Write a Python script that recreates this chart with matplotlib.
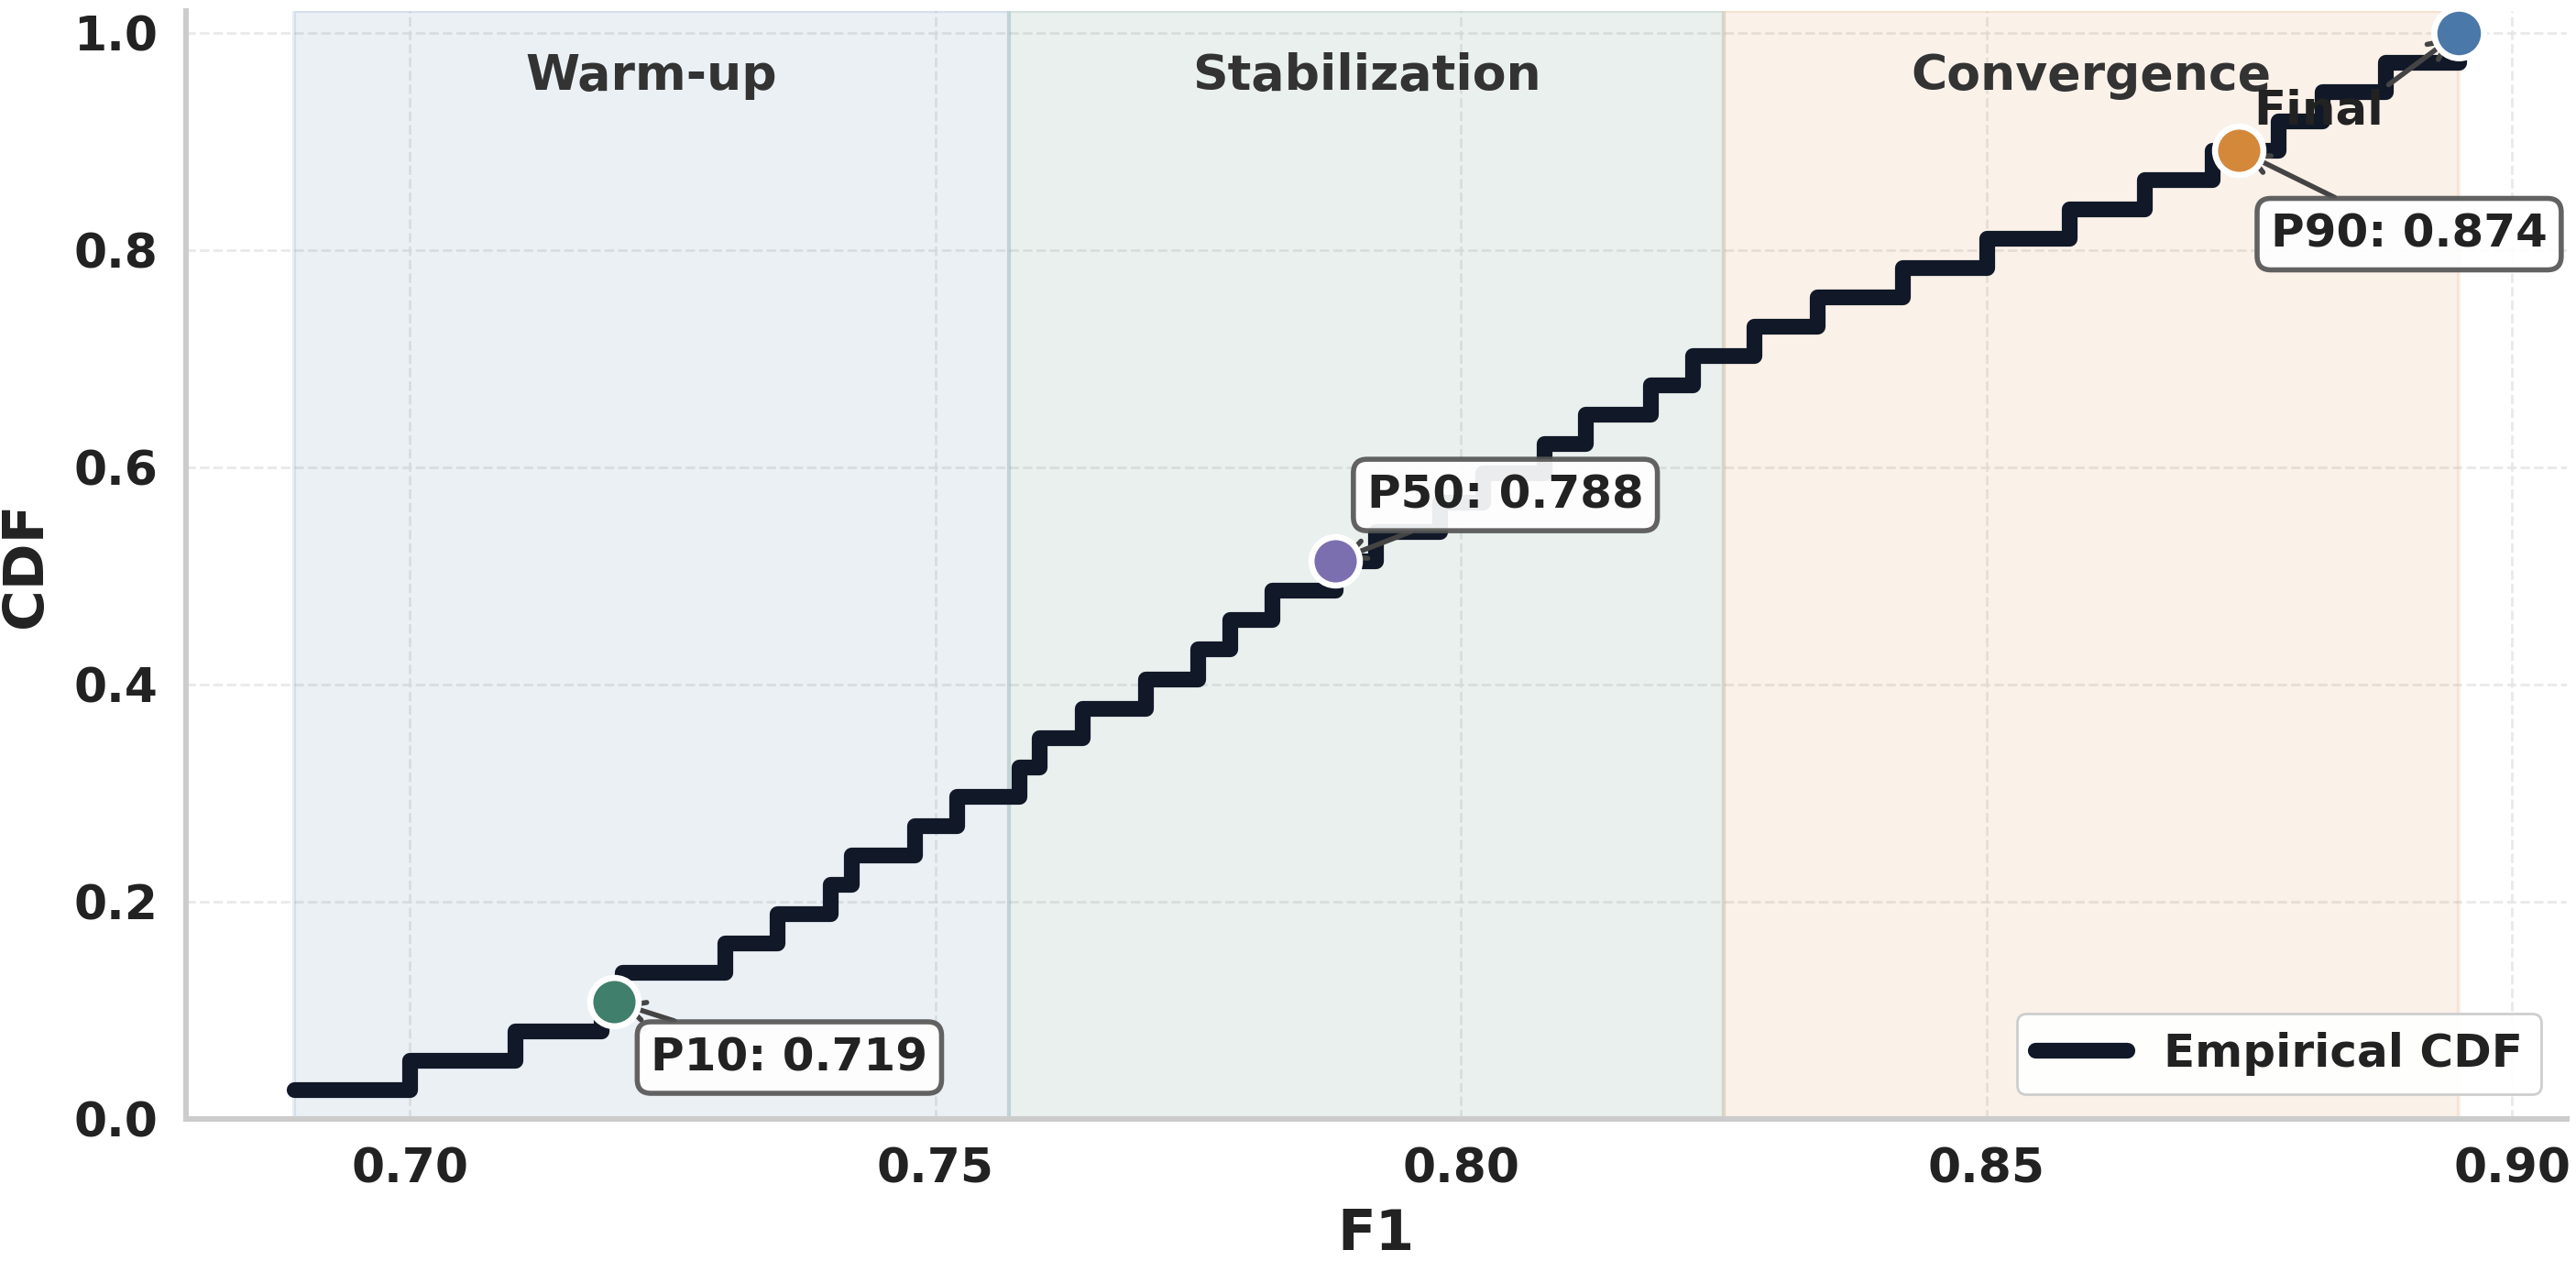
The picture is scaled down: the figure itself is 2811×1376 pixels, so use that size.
import numpy as np
import matplotlib
matplotlib.use("Agg")
import matplotlib.pyplot as plt

# sorted F1 scores
f1_scores = [0.689, 0.700, 0.710, 0.7182, 0.7202, 0.730, 0.7349, 0.740, 0.742, 0.748,
             0.752, 0.758, 0.7599, 0.764, 0.770, 0.775, 0.778, 0.782, 0.788, 0.7919,
             0.798, 0.8021, 0.8079, 0.8118, 0.818, 0.822, 0.8279, 0.8339, 0.842, 0.850,
             0.8579, 0.865, 0.8715, 0.8777, 0.8819, 0.8879, 0.8949]

phase_names = ["Warm-up", "Stabilization", "Convergence"]
phase_edges = [0.689, 0.757, 0.825, 0.8949]
phase_colors = ["#4A78A8", "#3F7F6B", "#D4883A"]

pct_levels = [10, 50, 90]
pct_colors = ["#3F7F6B", "#7B6FB0", "#D4883A"]
pct_offsets = [(69, -22), (67, 26), (67, -33)]  # points
final_color = "#4A78A8"

x = np.sort(np.array(f1_scores))
n = len(x)
y = np.arange(1, n + 1) / n

plt.rcParams['font.family'] = 'DejaVu Sans'
fig = plt.figure(figsize=(14.055, 6.88), dpi=200)
ax = fig.add_subplot(111)
fig.subplots_adjust(left=0.0722, right=0.9964, bottom=0.1126, top=0.9913)

# phase bands
for i, name in enumerate(phase_names):
    lo, hi = phase_edges[i], phase_edges[i + 1]
    c = matplotlib.colors.to_rgb(phase_colors[i])
    ax.axvspan(lo, hi, facecolor=(*c, 0.11), edgecolor=(*c, 0.13), lw=1.5, zorder=1)
    ax.text((lo + hi) / 2, 0.96, name, ha='center', va='center', fontsize=19.3,
            fontweight='bold', color='#333333', zorder=2)

ax.step(x, y, where='post', color='#111827', lw=6.2, solid_capstyle='round',
        solid_joinstyle='round', label='Empirical CDF', zorder=3)

for q, c, off in zip(pct_levels, pct_colors, pct_offsets):
    p = np.percentile(x, q)
    py = np.searchsorted(x, p, side='right') / n
    ax.plot(p, py, 'o', ms=19, mfc=c, mec='white', mew=2.4, zorder=5)
    ax.annotate(f"P{q}: {p:.3f}", xy=(p, py), xytext=off, textcoords='offset points',
                ha='center', va='center', fontsize=18, fontweight='bold', color='#222222',
                bbox=dict(boxstyle='round,pad=0.3', fc='white', ec='#555555', lw=2, alpha=0.92),
                arrowprops=dict(arrowstyle='->', color='#444444', lw=2, shrinkA=0, shrinkB=3),
                zorder=4)

ax.plot(x[-1], 1.0, 'o', ms=19.5, mfc=final_color, mec='white', mew=2.4, zorder=5)
ax.annotate("Final", xy=(x[-1], 1.0), xytext=(-55, -31), textcoords='offset points',
            ha='center', va='center', fontsize=18.5, fontweight='bold', color='#222222',
            arrowprops=dict(arrowstyle='->', color='#444444', lw=2, shrinkA=0, shrinkB=3,
                            relpos=(0.95, 0.9)),
            zorder=4)

rng = x[-1] - x[0]
ax.set_xlim(x[0] - 0.05 * rng, x[-1] + 0.05 * rng)
ax.set_ylim(0, 1.02)
ax.set_xticks([0.70, 0.75, 0.80, 0.85, 0.90])
ax.set_xticklabels(["0.70", "0.75", "0.80", "0.85", "0.90"])
ax.set_yticks([0.0, 0.2, 0.4, 0.6, 0.8, 1.0])
ax.set_yticklabels(["0.0", "0.2", "0.4", "0.6", "0.8", "1.0"])

ax.grid(True, linestyle='--', color='#e4e4e4', lw=1.0, alpha=0.8)
ax.set_axisbelow(True)
ax.tick_params(length=0, pad=11, labelsize=18.7, labelcolor='#222222')
for lab in ax.get_xticklabels() + ax.get_yticklabels():
    lab.set_fontweight('bold')

for s in ['top', 'right']:
    ax.spines[s].set_visible(False)
for s in ['left', 'bottom']:
    ax.spines[s].set_color('#cccccc')
    ax.spines[s].set_linewidth(2.2)

ax.set_xlabel("F1", fontsize=22, fontweight='bold', color='#222222', labelpad=6)
ax.set_ylabel("CDF", fontsize=22, fontweight='bold', color='#222222', labelpad=8)

leg = ax.legend(loc='lower right', prop={'size': 18, 'weight': 'bold'}, frameon=True,
                fancybox=True, edgecolor='#cccccc', framealpha=0.95, borderaxespad=0.55)
for t in leg.get_texts():
    t.set_color('#222222')

fig.savefig("out.png", dpi=200)
